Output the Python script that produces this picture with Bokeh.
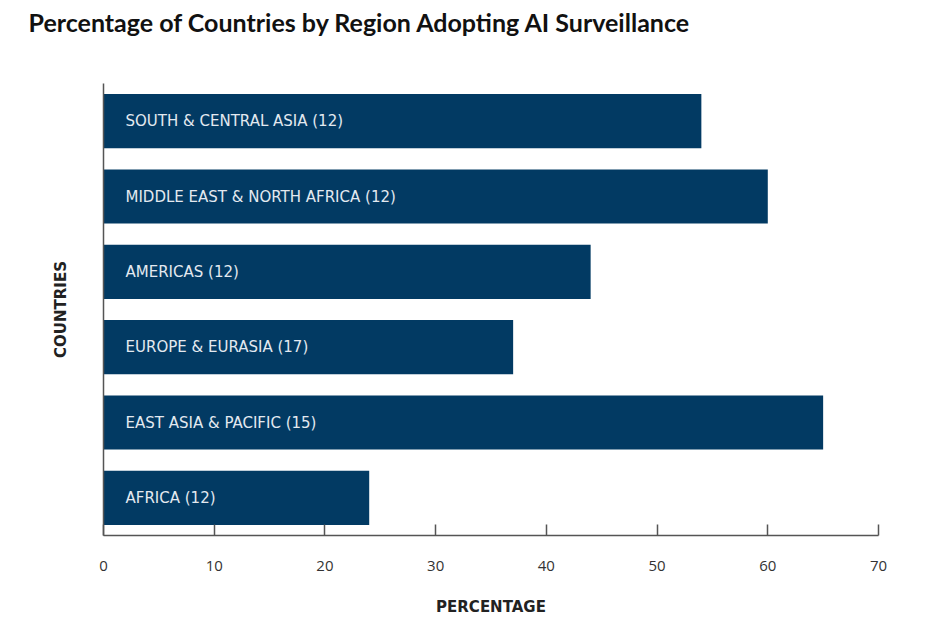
from bokeh.plotting import figure
from bokeh.models import Range1d, FactorRange, FixedTicker, ColumnDataSource, LinearAxis
from bokeh.core.properties import value
from bokeh.embed import file_html
from bokeh.resources import INLINE

# ---- data (top to bottom as shown) ----
regions = ["SOUTH & CENTRAL ASIA", "MIDDLE EAST & NORTH AFRICA", "AMERICAS",
           "EUROPE & EURASIA", "EAST ASIA & PACIFIC", "AFRICA"]
country_counts = [12, 12, 12, 17, 15, 12]
percentages = [54, 60, 44, 37, 65, 24]
x_ticks = [0, 10, 20, 30, 40, 50, 60, 70]
title_text = "Percentage of Countries by Region Adopting AI Surveillance"

labels = [f"{r} ({n})" for r, n in zip(regions, country_counts)]
src = ColumnDataSource(dict(label=labels, pct=percentages, zero=[0] * len(labels)))

BAR = "#023a63"
AXIS = "#555555"

p = figure(width=919, height=625,
           x_range=Range1d(0, 70),
           y_range=FactorRange(factors=labels[::-1]),
           output_backend="svg", toolbar_location=None,
           min_border_left=103, min_border_right=41,
           min_border_top=83, min_border_bottom=90)

p.hbar(y="label", left="zero", right="pct", height=0.72, source=src,
       fill_color=BAR, line_color=None)
p.text(x="zero", y="label", text="label", source=src, x_offset=22,
       text_baseline="middle", text_align="left",
       text_font=value("DejaVu Sans"), text_font_size="15px", text_color="#e3e9f0")

xa = p.below[0]
ya = p.left[0]

# blank spacer between title and plot area (white tick on white, no labels)
spacer = LinearAxis(ticker=FixedTicker(ticks=[x_ticks[0]]), axis_line_color=None,
                    major_tick_line_color="#ffffff", minor_tick_line_color=None,
                    major_tick_in=0, major_tick_out=46, major_label_standoff=0,
                    major_label_text_color=None)
p.add_layout(spacer, "above")

p.title.text = title_text
p.title.align = "left"
p.title.offset = -75
p.title.standoff = 2
p.title.text_font = "Lato"
p.title.text_font_style = "bold"
p.title.text_font_size = "25px"
p.title.text_color = "#111111"

p.outline_line_color = None
p.xgrid.visible = False
p.ygrid.visible = False

xa.ticker = FixedTicker(ticks=x_ticks)
xa.minor_tick_line_color = None
xa.major_tick_in = 11
xa.major_tick_out = 0
xa.axis_line_color = AXIS
xa.axis_line_width = 1.5
xa.major_tick_line_color = AXIS
xa.major_tick_line_width = 1.5
xa.major_label_standoff = 25
xa.major_label_text_font = "Open Sans"
xa.major_label_text_font_size = "15px"
xa.major_label_text_color = "#333333"
xa.axis_label = "PERCENTAGE"
xa.axis_label_text_font = "DejaVu Sans"
xa.axis_label_text_font_style = "bold"
xa.axis_label_text_font_size = "15px"
xa.axis_label_text_color = "#222222"
xa.axis_label_standoff = 24

ya.major_tick_line_color = None
ya.minor_tick_line_color = None
ya.major_label_text_font_size = "0px"
ya.major_label_text_alpha = 0
ya.axis_line_color = AXIS
ya.axis_line_width = 1.5
ya.axis_label = "COUNTRIES"
ya.axis_label_text_font = "DejaVu Sans"
ya.axis_label_text_font_style = "bold"
ya.axis_label_text_font_size = "15px"
ya.axis_label_text_color = "#222222"
ya.axis_label_standoff = 28

open("out.html", "w").write(file_html(p, INLINE))
